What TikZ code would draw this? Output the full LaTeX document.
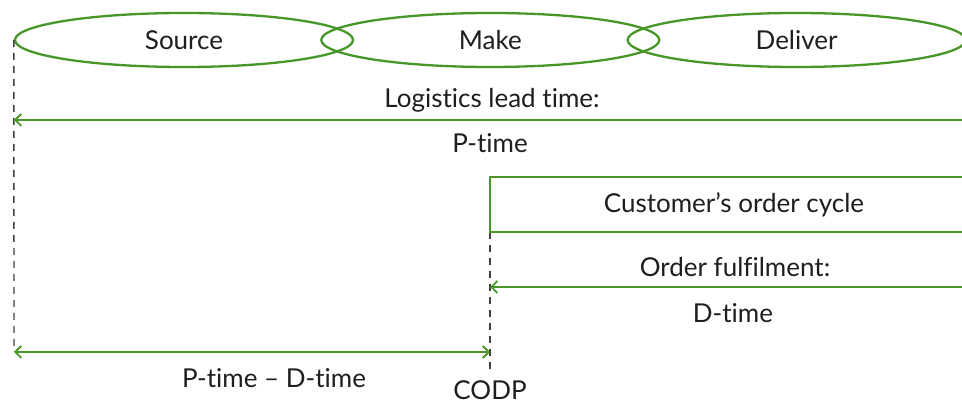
\documentclass[tikz,border=0pt]{standalone}
\usepackage{fontspec}
\setmainfont{Lato}[Ligatures=NoCommon]
\usetikzlibrary{positioning,shapes.geometric,arrows.meta}
\definecolor{scgreen}{RGB}{72,150,40}
\definecolor{sctext}{RGB}{30,30,30}

\begin{document}
\begin{tikzpicture}[x=1pt, y=-1pt,
    stagenode/.style={ellipse, draw=scgreen, line width=2.3pt, minimum width=338pt, minimum height=54pt, inner sep=0pt, text=sctext, font=\fontsize{26}{30}\selectfont},
    labelnode/.style={text=sctext, inner sep=1pt, font=\fontsize{26}{30}\selectfont},
    timeline/.style={draw=scgreen, line width=2.3pt},
    timearrow/.style={timeline, -{Straight Barb[length=6pt, width=12pt, line width=1.8pt]}},
    cutline/.style={draw=black!75, line width=1.4pt, dash pattern=on 7pt off 6pt}
   ]
   \useasboundingbox (0,0) rectangle (962,403);
   \node[stagenode] (source)                        at (184,40) {Source};
   \node[stagenode] (make)    [right=-34pt of source]           {Make};
   \node[stagenode] (deliver) [right=-34pt of make]             {Deliver};

   \coordinate (leadright)  at (962,120);
   \coordinate (leadleft)   at (14,120);
   \coordinate (cycletl)    at (490,177);
   \coordinate (cycletr)    at (962,177);
   \coordinate (cyclebl)    at (490,232);
   \coordinate (cyclebr)    at (962,232);
   \coordinate (fulfright)  at (962,287);
   \coordinate (fulfleft)   at (490,287);
   \coordinate (diffleft)   at (14,352);
   \coordinate (diffright)  at (490,352);
   \coordinate (codpend)    at (490,372);

   \node[labelnode] (leadtime)  at (492,100) {Logistics lead time:};
   \node[labelnode] (ptime)     at (490,143) {P-time};
   \node[labelnode] (cycle)     at (734,205) {Customer’s order cycle};
   \node[labelnode] (fulfil)    at (735,267) {Order fulfilment:};
   \node[labelnode] (dtime)     at (733,313) {D-time};
   \node[labelnode] (pdtime)    at (274,378) {P-time – D-time};
   \node[labelnode] (codp)      at (490,390) {CODP};

  \draw[cutline] (source.west) -- (diffleft);
  \draw[cutline] (cyclebl) -- (codpend);
  \draw[timearrow] (leadright) -- (leadleft);
  \draw[timeline] (cycletr) -- (cycletl) -- (cyclebl) -- (cyclebr);
  \draw[timearrow] (fulfright) -- (fulfleft);
  \draw[timeline, {Straight Barb[length=6pt, width=12pt, line width=1.8pt]}-{Straight Barb[length=6pt, width=12pt, line width=1.8pt]}] (diffleft) -- (diffright);
 \end{tikzpicture}
\end{document}
